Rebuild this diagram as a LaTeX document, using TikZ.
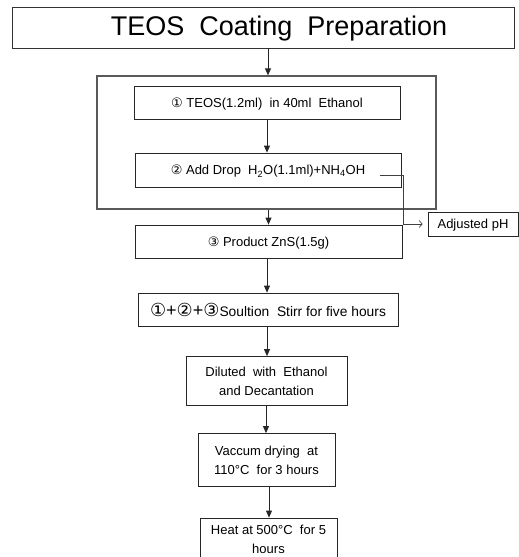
\documentclass[tikz,border=0pt]{standalone}
\usepackage{fontspec}
\setmainfont{Liberation Sans}
\newfontfamily\circfont{DejaVu Sans}
\usetikzlibrary{arrows.meta}
\newcommand{\cnum}[1]{{\circfont #1}}
\begin{document}
\begin{tikzpicture}[x=1pt,y=-1pt,
  stepbox/.style={draw=black!85, line width=0.8pt, inner sep=0pt, align=center,
    font=\fontsize{13}{19}\selectfont},
  oneline/.style={text depth=0pt},
  outerbox/.style={draw=black!65, line width=1.3pt, inner sep=0pt},
  flow/.style={-{Triangle[length=7pt,width=6pt]}, line width=0.8pt, draw=black!85},
  phline/.style={-{Straight Barb[length=3pt,width=7pt]}, line width=0.7pt, draw=black!75}
]
\useasboundingbox (0,0) rectangle (519,557);
\clip (0,0) rectangle (519,557);

% title
\node[draw=black!80, line width=0.8pt, minimum width=502pt, minimum height=41pt, inner sep=0pt] (title) at (263,27.5) {};
\node[font=\fontsize{27}{30}\selectfont, inner sep=0pt] (titletext) at (279,28.5) {TEOS\ \ Coating\ \ Preparation};

% outer group
\node[outerbox, minimum width=339pt, minimum height=133pt] (outer) at (266.5,142.5) {};

\node[stepbox, oneline, minimum width=266pt, minimum height=33pt] (b1) at (267,102.5)
  {\cnum{①} TEOS(1.2ml)\ \ in 40ml\ \ Ethanol};
\node[stepbox, oneline, minimum width=266pt, minimum height=34pt] (b2) at (268,170)
  {\cnum{②} Add Drop\ \ H\textsubscript{2}O(1.1ml)+NH\textsubscript{4}OH};
\node[stepbox, oneline, minimum width=267pt, minimum height=33pt] (b3) at (268.5,241.5)
  {\cnum{③} Product ZnS(1.5g)};
\node[stepbox, oneline, minimum width=260pt, minimum height=33pt, font=\fontsize{13.8}{19}\selectfont] (b4) at (268,309.5)
  {{\fontsize{18}{19}\selectfont\cnum{①}+\cnum{②}+\cnum{③}}Soultion\ \ Stirr for five hours};
\node[stepbox, minimum width=161pt, minimum height=49pt] (b5) at (266.5,381)
  {Diluted\ \ with\ \ Ethanol\\and Decantation};
\node[stepbox, minimum width=137pt, minimum height=53pt] (b6) at (266.5,460)
  {Vaccum drying\ \ at\\110°C\ \ for 3 hours};
\node[stepbox, minimum width=137pt, minimum height=42pt] (b7) at (268.5,539)
  {Heat at 500°C\ \ for 5\\hours};
\node[stepbox, oneline, minimum width=90pt, minimum height=24pt] (ph) at (473,224) {Adjusted pH};

% arrows
\draw[flow] (title.south -| 268,0) -- (outer.north -| 268,0);
\draw[flow] (b1.south) -- (b1.south |- b2.north);
\draw[flow] (outer.south -| b3.north) -- (b3.north);
\draw[flow] (b3.south -| 267,0) -- (b4.north -| 267,0);
\draw[flow] (b4.south -| 267,0) -- (b5.north -| 267,0);
\draw[flow] (b5.south -| 266,0) -- (b6.north -| 266,0);
\draw[flow] (b6.south -| 269,0) -- (b7.north -| 269,0);

% pH branch
\coordinate (phstart) at (380,175);
\coordinate (phturn) at (403,175);
\draw[phline, shorten >=5pt] (phstart) -- (phturn) |- (ph.west);
\end{tikzpicture}
\end{document}
